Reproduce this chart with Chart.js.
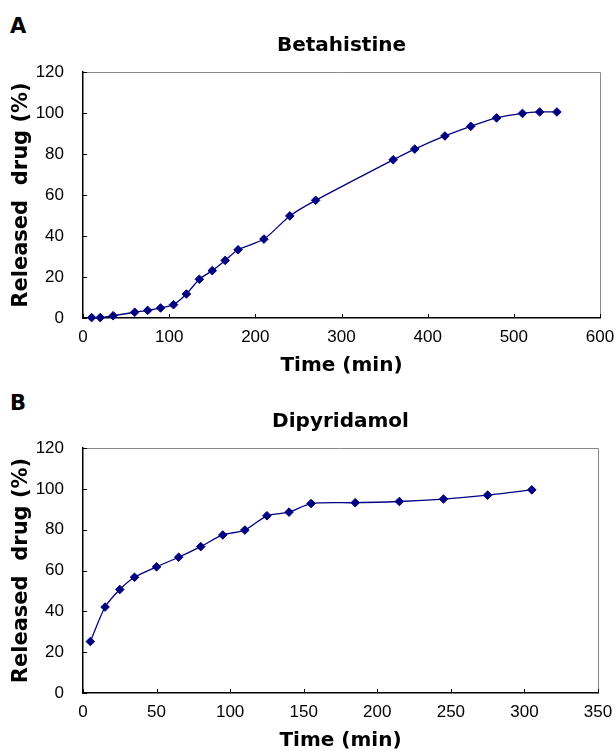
<!DOCTYPE html>
<html>
<head>
<meta charset="utf-8">
<script src="https://cdn.jsdelivr.net/npm/chart.js@4"></script>
<style>
  body { margin: 0; background: #fff; width: 616px; height: 751px; overflow: hidden; position: relative; }
  canvas { position: absolute; left: 0; }
  .tag { position: absolute; left: 10px; font: bold 21px "DejaVu Sans"; line-height: 21px; color: #000; }
</style>
</head>
<body>
<div class="tag" style="top:16px">A</div>
<canvas id="chartA" width="616" height="376" style="top:0"></canvas>
<div class="tag" style="top:393px">B</div>
<canvas id="chartB" width="616" height="375" style="top:376px"></canvas>
<script>
// Betahistine release (panel A)
const betaTimes = [10, 20, 35, 60, 75, 90, 105, 120, 135, 150, 165, 180, 210, 240, 270, 360, 385, 420, 450, 480, 510, 530, 550];
const betaReleased = [0.2, 0.2, 1.1, 2.8, 3.7, 4.9, 6.5, 11.7, 18.9, 23.1, 28.1, 33.3, 38.5, 49.8, 57.4, 77.2, 82.4, 88.8, 93.5, 97.6, 99.8, 100.5, 100.5];

// Dipyridamol release (panel B)
const dipyTimes = [5, 15, 25, 35, 50, 65, 80, 95, 110, 125, 140, 155, 185, 215, 245, 275, 305];
const dipyReleased = [25.2, 42.1, 50.7, 56.7, 61.8, 66.5, 71.7, 77.4, 79.8, 86.8, 88.6, 92.8, 93.2, 93.8, 95.0, 96.9, 99.5];

const yTicks = { min: 0, max: 120, step: 20 };

// grijze kader boven/rechts + tick streepjes naar binnen
const framePlugin = {
  id: 'frame',
  afterDraw(chart) {
    const { ctx, chartArea: a, scales: { x, y } } = chart;
    ctx.save();
    ctx.strokeStyle = '#8a8a8a';
    ctx.lineWidth = 1;
    ctx.beginPath();
    ctx.moveTo(a.left, Math.round(a.top) + 0.5);
    ctx.lineTo(Math.round(a.right) + 0.5, Math.round(a.top) + 0.5);
    ctx.lineTo(Math.round(a.right) + 0.5, a.bottom);
    ctx.stroke();

    ctx.strokeStyle = '#000';
    ctx.beginPath();
    x.ticks.forEach(t => {
      const px = Math.round(x.getPixelForValue(t.value)) + 0.5;
      ctx.moveTo(px, a.bottom);
      ctx.lineTo(px, a.bottom - 4);
    });
    y.ticks.forEach(t => {
      const py = Math.round(y.getPixelForValue(t.value)) + 0.5;
      ctx.moveTo(a.left, py);
      ctx.lineTo(a.left + 4, py);
    });
    ctx.stroke();
    ctx.restore();
  }
};

function makePanel(id, title, times, values, xMax, xStep, rightPad) {
  const ctx = document.getElementById(id).getContext('2d');
  const points = times.map((t, i) => ({ x: t, y: values[i] }));
  return new Chart(ctx, {
    type: 'line',
    data: {
      datasets: [{
        data: points,
        borderColor: '#000080',
        borderWidth: 1.3,
        tension: 0.25,
        pointStyle: 'rectRot',
        pointRadius: 4.3,
        pointBorderWidth: 1,
        pointBackgroundColor: '#000080',
        pointBorderColor: '#000080',
        clip: false
      }]
    },
    options: {
      responsive: false,
      animation: false,
      devicePixelRatio: 1,
      layout: { padding: { left: 0, right: rightPad, top: 0, bottom: 0 } },
      plugins: {
        legend: { display: false },
        tooltip: { enabled: false },
        title: {
          display: true,
          text: title,
          fullSize: false,
          color: '#000',
          font: { family: 'DejaVu Sans', size: 20, weight: 'bold', lineHeight: 1.2 },
          padding: { top: 34, bottom: 14 }
        }
      },
      scales: {
        x: {
          type: 'linear',
          min: 0,
          max: xMax,
          ticks: { stepSize: xStep, color: '#000', font: { family: 'Liberation Sans', size: 17 }, padding: 1, maxRotation: 0, autoSkip: false },
          grid: { display: false },
          border: { color: '#000', width: 1.5 },
          title: {
            display: true,
            text: 'Time (min)',
            color: '#000',
            font: { family: 'DejaVu Sans', size: 20, weight: 'bold', lineHeight: 1 },
            padding: { top: 0, bottom: 0 }
          },
          afterFit(scale) { scale.height = 58; }
        },
        y: {
          min: yTicks.min,
          max: yTicks.max,
          ticks: { stepSize: yTicks.step, color: '#000', font: { family: 'Liberation Sans', size: 17 }, padding: 11 },
          grid: { display: false },
          border: { color: '#000', width: 1.5 },
          title: {
            display: true,
            text: 'Released  drug (%)',
            color: '#000',
            font: { family: 'DejaVu Sans', size: 21, weight: 'bold', lineHeight: 1.2 },
            padding: { top: 9, bottom: 0 }
          },
          afterFit(scale) { scale.width = 83; }
        }
      }
    },
    plugins: [framePlugin]
  });
}

makePanel('chartA', 'Betahistine', betaTimes, betaReleased, 600, 100, 16);
makePanel('chartB', 'Dipyridamol', dipyTimes, dipyReleased, 350, 50, 18);
</script>
</body>
</html>
